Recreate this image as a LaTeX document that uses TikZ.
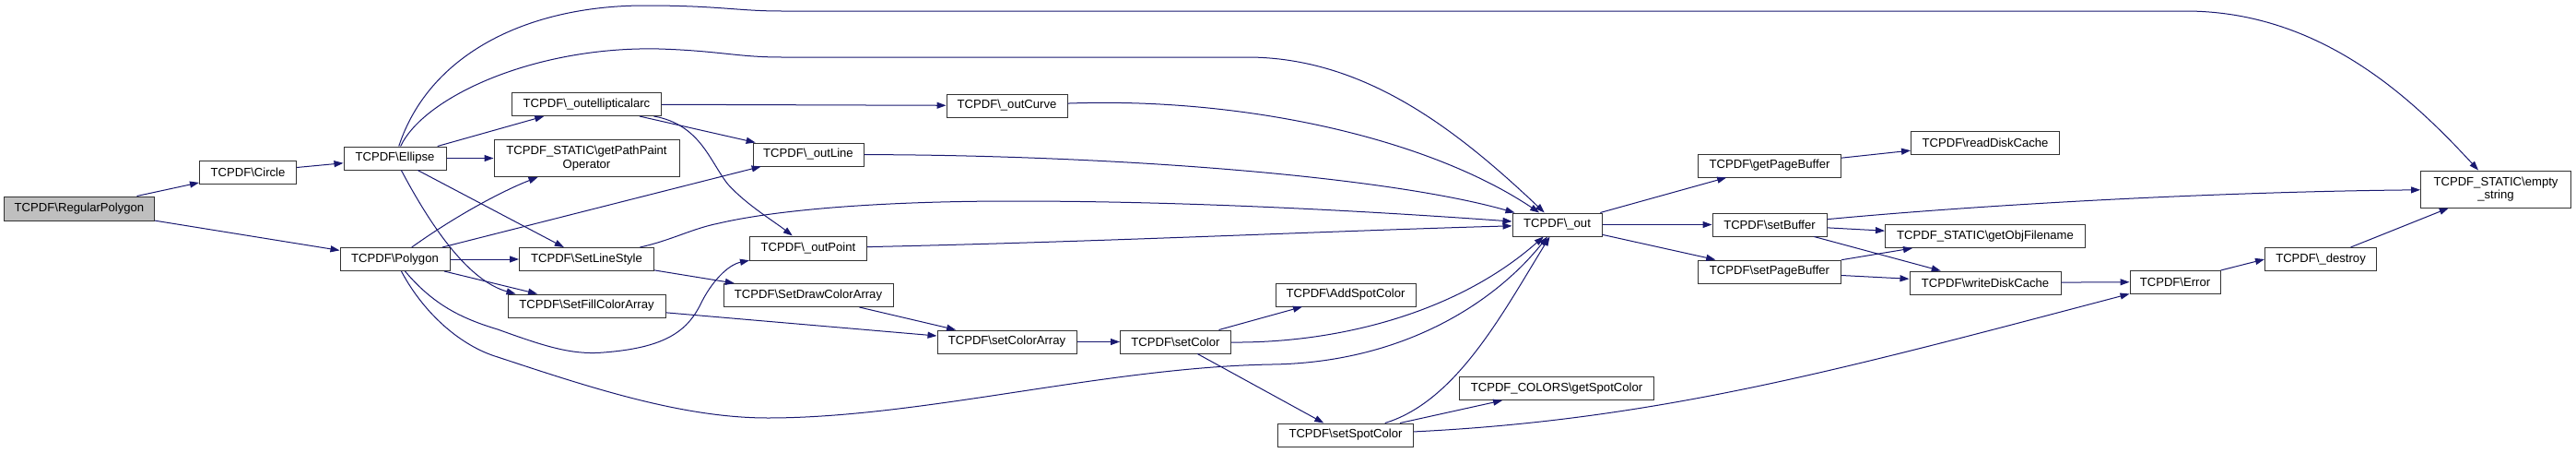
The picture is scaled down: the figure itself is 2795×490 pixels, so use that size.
\documentclass[tikz,border=0pt]{standalone}
\usepackage{fontspec}
\setmainfont{Liberation Sans}
\usetikzlibrary{arrows.meta}
\definecolor{edgeblue}{HTML}{191970}
\definecolor{rootgray}{HTML}{BFBFBF}
\newcommand{\tcpdf}{TCPDF\textbackslash}
\newcommand{\tcpdfst}{TCPDF\_STATIC\textbackslash}

\begin{document}
\begin{tikzpicture}[
        x=1pt, y=-1pt,
        fn/.style={draw=black!80, line width=1pt, fill=white, rectangle,
            minimum height=25pt, inner sep=2pt, align=center,
            font=\fontsize{13.1pt}{14.5pt}\selectfont},
        root/.style={fn, fill=rootgray},
        call/.style={draw=edgeblue, line width=1pt,
            -{Triangle[length=10pt,width=7pt]}}]

    \useasboundingbox (0,0) rectangle (2795,490);

    % NODES
    % caller
    \node[root, minimum width=163pt, minimum height=26pt] (rp) at (86,226) {\tcpdf RegularPolygon};
    % first level
    \node[fn, minimum width=105pt] (circle) at (269,186.5) {\tcpdf Circle};
    \node[fn, minimum width=111pt] (ellipse) at (428.5,171.5) {\tcpdf Ellipse};
    \node[fn, minimum width=119pt] (polygon) at (428.5,281) {\tcpdf Polygon};
    % drawing helpers
    \node[fn, minimum width=162pt] (arc) at (636.5,113) {\tcpdf\_outellipticalarc};
    \node[fn, minimum width=201pt, minimum height=40pt] (gpp) at (636.5,171.5) {\tcpdfst getPathPaint\\Operator};
    \node[fn, minimum width=146pt] (sls) at (636.5,281) {\tcpdf SetLineStyle};
    \node[fn, minimum width=171pt] (sfca) at (636.5,331.5) {\tcpdf SetFillColorArray};
    \node[fn, minimum width=120pt] (outline) at (877,167.5) {\tcpdf\_outLine};
    \node[fn, minimum width=127pt, minimum height=26pt] (outpoint) at (877,269) {\tcpdf\_outPoint};
    \node[fn, minimum width=184pt] (sdca) at (877,320) {\tcpdf SetDrawColorArray};
    \node[fn, minimum width=131pt] (outcurve) at (1092.5,114.5) {\tcpdf\_outCurve};
    % colours
    \node[fn, minimum width=151pt] (sca) at (1092.5,370.5) {\tcpdf setColorArray};
    \node[fn, minimum width=120pt] (setcolor) at (1275.5,370.5) {\tcpdf setColor};
    \node[fn, minimum width=152pt] (addspot) at (1460,319.5) {\tcpdf AddSpotColor};
    \node[fn, minimum width=147pt] (setspot) at (1460,471.5) {\tcpdf setSpotColor};
    \node[fn, minimum width=211pt] (getspot) at (1689,421) {TCPDF\_COLORS\textbackslash getSpotColor};
    % output
    \node[fn, minimum width=97pt] (out) at (1689.5,243.5) {\tcpdf\_out};
    \node[fn, minimum width=155pt] (gpb) at (1920,179.5) {\tcpdf getPageBuffer};
    \node[fn, minimum width=161pt] (rdc) at (2154,154.5) {\tcpdf readDiskCache};
    \node[fn, minimum width=124pt] (sb) at (1920,243.5) {\tcpdf setBuffer};
    \node[fn, minimum width=217pt] (gof) at (2154,256) {\tcpdfst getObjFilename};
    \node[fn, minimum width=155pt] (spb) at (1920,294.5) {\tcpdf setPageBuffer};
    \node[fn, minimum width=164pt] (wdc) at (2154,306.5) {\tcpdf writeDiskCache};
    \node[fn, minimum width=98pt] (err) at (2360,305.5) {\tcpdf Error};
    \node[fn, minimum width=121pt] (destroy) at (2518,281) {\tcpdf\_destroy};
    \node[fn, minimum width=163pt, minimum height=40pt] (es) at (2708,205) {\tcpdfst empty\\\_string};

    % ARROWS
    \draw[call] (rp) -- (circle);
    \draw[call] (rp) -- (polygon);
    \draw[call] (circle) -- (ellipse);
    % from Ellipse
    \draw[call] (ellipse) -- (arc);
    \draw[call] (ellipse) -- (gpp);
    \draw[call] (ellipse) -- (sls);
    \draw[call] (ellipse) .. controls (470,250) and (510,305) .. ([xshift=9pt]sfca.north west);
    \draw[call] (ellipse) .. controls (460,105) and (580,50) .. (715,53)
        .. controls (780,55) and (800,62) .. (848,62) -- (1353,62)
        .. controls (1480,62) and (1580,140) .. (out);
    \draw[call] (ellipse) .. controls (465,60) and (570,6) .. (700,6)
        .. controls (780,6) and (800,12) .. (848,12) -- (2371,12)
        .. controls (2520,12) and (2620,110) .. (es);
    % from Polygon
    \draw[call] (polygon) .. controls (500,230) and (550,205) .. (gpp);
    \draw[call] (polygon) -- (outline);
    \draw[call] (polygon) -- (sls);
    \draw[call] (polygon) -- (sfca);
    \draw[call] (polygon) .. controls (470,330) and (500,345) .. (540,357)
        .. controls (590,375) and (620,385) .. (655,382)
        .. controls (720,377) and (745,360) .. (760,330)
        .. controls (772,305) and (790,287) .. (outpoint);
    \draw[call] (polygon) .. controls (460,340) and (500,375) .. (540,387)
        .. controls (640,420) and (740,453) .. (833,453)
        .. controls (1000,453) and (1200,398) .. (1380,395)
        .. controls (1520,393) and (1620,330) .. (out);
    % path helpers
    \draw[call] (arc) -- (outcurve);
    \draw[call] (arc) -- (outline);
    \draw[call] (arc) .. controls (760,135) and (770,175) .. (790,200)
        .. controls (810,222) and (840,240) .. (outpoint);
    \draw[call] (outcurve) .. controls (1350,105) and (1550,150) .. (out);
    \draw[call] (outline) .. controls (1200,168) and (1500,190) .. (out);
    \draw[call] (outpoint) .. controls (1200,262) and (1450,250) .. (out);
    \draw[call] (sls) .. controls (730,260) and (750,248) .. (780,242)
        .. controls (840,228) and (950,218) .. (1100,218)
        .. controls (1300,218) and (1500,230) .. (out);
    \draw[call] (sls) -- (sdca);
    % colours
    \draw[call] (sfca) -- (sca);
    \draw[call] (sdca) -- (sca);
    \draw[call] (sca) -- (setcolor);
    \draw[call] (setcolor) -- (addspot);
    \draw[call] (setcolor) .. controls (1450,372) and (1580,340) .. (out);
    \draw[call] (setcolor) -- (setspot);
    \draw[call] (setspot) .. controls (1580,435) and (1630,340) .. (out);
    \draw[call] (setspot) -- (getspot);
    \draw[call] (setspot) .. controls (1800,455) and (2000,400) .. (err);
    % output buffer
    \draw[call] (out) -- (gpb);
    \draw[call] (out) -- (sb);
    \draw[call] (out) -- (spb);
    \draw[call] (gpb) -- (rdc);
    \draw[call] (sb) .. controls (2150,222) and (2400,208) .. (es);
    \draw[call] (sb) -- (gof);
    \draw[call] (sb) -- (wdc);
    \draw[call] (spb) -- (gof);
    \draw[call] (spb) -- (wdc);
    \draw[call] (wdc) -- (err);
    \draw[call] (err) -- (destroy.west);
    \draw[call] (destroy) -- (es);
\end{tikzpicture}
\end{document}
